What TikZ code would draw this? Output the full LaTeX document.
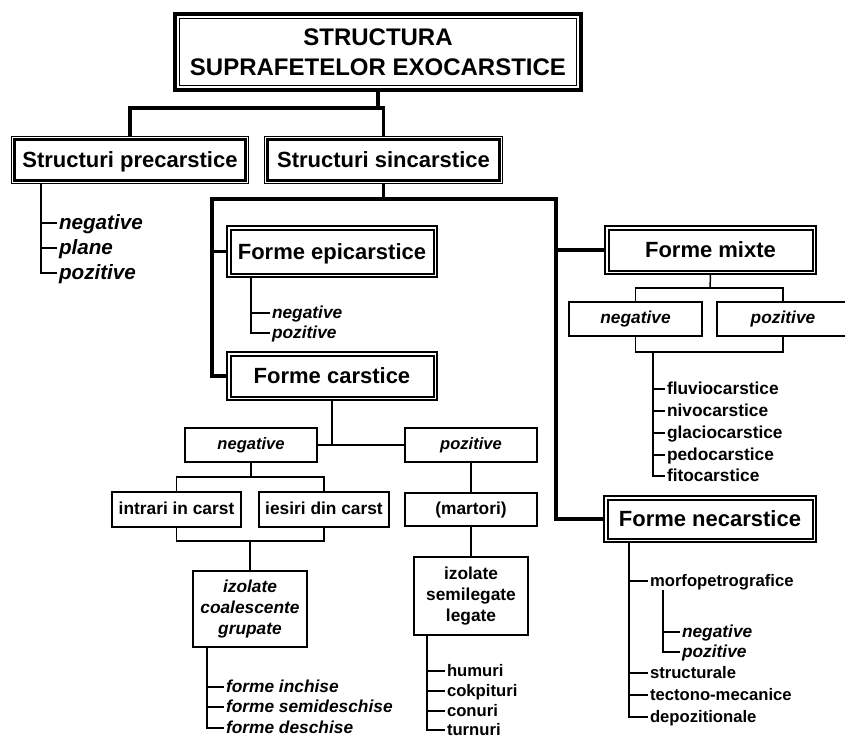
\documentclass[tikz,border=0pt]{standalone}
\usepackage{fontspec}
\setmainfont{Liberation Sans}
\newcommand\fntTitle{\fontsize{18}{22.5}\selectfont\bfseries}
\newcommand\fntHdr{\fontsize{16.5}{19}\selectfont\bfseries}
\newcommand\fntPre{\fontsize{15.5}{18}\selectfont\bfseries\itshape}
\newcommand\fntB{\fontsize{13}{15.75}\selectfont\bfseries}
\newcommand\fntBI{\fontsize{13}{15.75}\selectfont\bfseries\itshape}
\newcommand\fntS{\fontsize{12.5}{15}\selectfont\bfseries}
\newcommand\fntSI{\fontsize{12.4}{15}\selectfont\bfseries\itshape}
\newcommand\inframe[3]{\draw[line width=#3] ([shift={(#2,#2)}]#1.north west) rectangle ([shift={(-#2,-#2)}]#1.south east);}
\tikzset{
  every node/.style={outer sep=0pt},
  titlebox/.style={draw, line width=3pt, inner sep=0pt, align=center, font=\fntTitle,
    minimum width=406*0.75pt, minimum height=76*0.75pt},
  hdr/.style={draw, line width=0.8pt, inner sep=0pt, font=\fntHdr, text height=11.9pt, text depth=0pt},
  frm/.style={hdr},
  sbox/.style={draw, line width=1.1pt, inner sep=0pt, font=\fntB, text height=7.8pt, text depth=0pt},
  ibox/.style={draw, line width=1.1pt, inner sep=0pt, font=\fntBI, text height=7.2pt, text depth=0pt},
  mbox/.style={draw, line width=1.1pt, inner sep=0pt, align=center},
  liPre/.style={anchor=west, inner xsep=1.5pt, inner ysep=0pt, font=\fntPre, text height=9.3pt, text depth=0pt},
  liB/.style={anchor=west, inner xsep=1.5pt, inner ysep=0pt, font=\fntB, text height=7.8pt, text depth=0pt},
  liBI/.style={anchor=west, inner xsep=1.5pt, inner ysep=0pt, font=\fntBI, text height=7.8pt, text depth=0pt},
  liS/.style={anchor=west, inner xsep=1.5pt, inner ysep=0pt, font=\fntS, text height=7.5pt, text depth=0pt},
  thk/.style={line width=2.5pt},
  thn/.style={line width=1.1pt},
}
\begin{document}
\begin{tikzpicture}[x=0.75pt,y=-0.75pt]
\useasboundingbox (0,0) rectangle (845,743);
\fill[white] (0,0) rectangle (845,743);
\clip (0,0) rectangle (845,743);

% ---------- title ----------
\node[titlebox] (tb) at (378,52) {STRUCTURA\\SUPRAFETELOR EXOCARSTICE};
\inframe{tb}{4.5}{0.75pt}

% ---------- level 1 ----------
\node[hdr, minimum width=237*0.75pt, minimum height=47*0.75pt] (pre) at (130,160) {Structuri precarstice};
\inframe{pre}{3.2}{2.2pt}
\node[hdr, minimum width=238*0.75pt, minimum height=47*0.75pt] (sin) at (383.5,160) {Structuri sincarstice};
\inframe{sin}{3.2}{2.2pt}

\coordinate (tj) at (383.5,108);
\draw[thk] (pre.north) |- (tj) -- (sin.north);
\draw[thk] (tb.south) -- (tb.south |- tj);

% ---------- precarstice list ----------
\node[liPre] (p1) at (57,223) {negative};
\node[liPre] (p2) at (57,248) {plane};
\node[liPre] (p3) at (57,273) {pozitive};
\coordinate (ps) at (41,183.5);
\draw[thn] (ps) |- (p3.west);
\foreach \n in {p1,p2} \draw[thn] (\n.west -| ps) -- (\n.west);

% ---------- level 2 ----------
\node[frm, minimum width=210*0.75pt, minimum height=51*0.75pt] (epi) at (332,251.5) {Forme epicarstice};
\inframe{epi}{3.5}{1.5pt}
\node[frm, minimum width=210*0.75pt, minimum height=48*0.75pt] (fc) at (332,376) {Forme carstice};
\inframe{fc}{3.5}{1.5pt}
\node[frm, minimum width=211*0.75pt, minimum height=48*0.75pt] (mix) at (710.5,250) {Forme mixte};
\inframe{mix}{3.5}{1.5pt}
\node[frm, minimum width=212*0.75pt, minimum height=46*0.75pt] (nec) at (710,519) {Forme necarstice};
\inframe{nec}{3.5}{1.5pt}

\coordinate (bl) at (212,199);
\coordinate (br) at (556,199);
\draw[thk] (fc.west) -| (bl) -- (br) |- (nec.west);
\draw[thk] (epi.west) -- (epi.west -| bl);
\draw[thk] (mix.west) -- (mix.west -| br);
\draw[thk] (sin.south) -- (sin.south |- bl);

% ---------- epicarstice list ----------
\node[liBI] (e1) at (270,313) {negative};
\node[liBI] (e2) at (270,333) {pozitive};
\coordinate (es) at (251,277);
\draw[thn] (es) |- (e2.west);
\draw[thn] (e1.west -| es) -- (e1.west);

% ---------- forme mixte ----------
\node[ibox, minimum width=133*0.75pt, minimum height=34*0.75pt] (mneg) at (635.5,319) {negative};
\node[ibox, minimum width=132*0.75pt, minimum height=34*0.75pt] (mpoz) at (783,319) {pozitive};
\coordinate (mb) at (710,288);
\draw[thn] (mix.south) -- (mb);
\draw[thn] (mneg.north) |- (mb) -| (mpoz.north);
\coordinate (mb2) at (710,352);
\draw[thn] (mneg.south) |- (mb2) -| (mpoz.south);

\node[liB] (m1) at (665,389) {fluviocarstice};
\node[liB] (m2) at (665,411) {nivocarstice};
\node[liB] (m3) at (665,433) {glaciocarstice};
\node[liB] (m4) at (665,455) {pedocarstice};
\node[liB] (m5) at (665,476) {fitocarstice};
\coordinate (ms) at (653,352);
\draw[thn] (ms) |- (m5.west);
\foreach \n in {m1,m2,m3,m4} \draw[thn] (\n.west -| ms) -- (\n.west);

% ---------- forme necarstice ----------
\node[liS] (n1) at (648,581) {morfopetrografice};
\node[liS] (n2) at (648,673) {structurale};
\node[liS] (n3) at (648,695) {tectono-mecanice};
\node[liS] (n4) at (648,717) {depozitionale};
\coordinate (ns) at (629,542);
\draw[thn] (ns) |- (n4.west);
\foreach \n in {n1,n2,n3} \draw[thn] (\n.west -| ns) -- (\n.west);

\node[liBI] (s1) at (680,632) {negative};
\node[liBI] (s2) at (680,652) {pozitive};
\coordinate (ss) at (663,590);
\draw[thn] (ss) |- (s2.west);
\draw[thn] (s1.west -| ss) -- (s1.west);

% ---------- forme carstice ----------
\node[ibox, font=\fntSI, minimum width=132*0.75pt, minimum height=34*0.75pt] (cneg) at (251,445) {negative};
\node[ibox, font=\fntSI, minimum width=132*0.75pt, minimum height=34*0.75pt] (cpoz) at (471,445) {pozitive};
\draw[thn] (fc.south) -- (fc.south |- cneg.east);
\draw[thn] (cneg.east) -- (cpoz.west);

\node[sbox, minimum width=129*0.75pt, minimum height=35*0.75pt] (intr) at (176.5,509.5) {intrari in carst};
\node[sbox, minimum width=130*0.75pt, minimum height=35*0.75pt] (ies) at (324,509.5) {iesiri din carst};
\coordinate (nb) at (250,477);
\draw[thn] (cneg.south) -- (cneg.south |- nb);
\draw[thn] (intr.north) |- (nb) -| (ies.north);
\coordinate (nb2) at (250,541);
\node[mbox, font=\fntBI, minimum width=114*0.75pt, minimum height=76*0.75pt] (izo) at (250,609) {izolate\\coalescente\\grupate};
\draw[thn] (intr.south) |- (nb2) -| (ies.south);
\draw[thn] (nb2) -- (izo.north);

\node[liBI] (z1) at (224,687) {forme inchise};
\node[liBI] (z2) at (224,707) {forme semideschise};
\node[liBI] (z3) at (224,728) {forme deschise};
\coordinate (zs) at (207,647);
\draw[thn] (zs) |- (z3.west);
\foreach \n in {z1,z2} \draw[thn] (\n.west -| zs) -- (\n.west);

\node[sbox, minimum width=132*0.75pt, minimum height=33*0.75pt] (mart) at (471,509.5) {(martori)};
\node[mbox, font=\fntB, minimum width=114*0.75pt, minimum height=78*0.75pt] (izs) at (471,596) {izolate\\semilegate\\legate};
\draw[thn] (cpoz.south) -- (mart.north);
\draw[thn] (mart.south) -- (izs.north);

\node[liS] (h1) at (445,671) {humuri};
\node[liS] (h2) at (445,691) {cokpituri};
\node[liS] (h3) at (445,711) {conuri};
\node[liS] (h4) at (445,730) {turnuri};
\coordinate (hs) at (427,635);
\draw[thn] (hs) |- (h4.west);
\foreach \n in {h1,h2,h3} \draw[thn] (\n.west -| hs) -- (\n.west);
\end{tikzpicture}
\end{document}
